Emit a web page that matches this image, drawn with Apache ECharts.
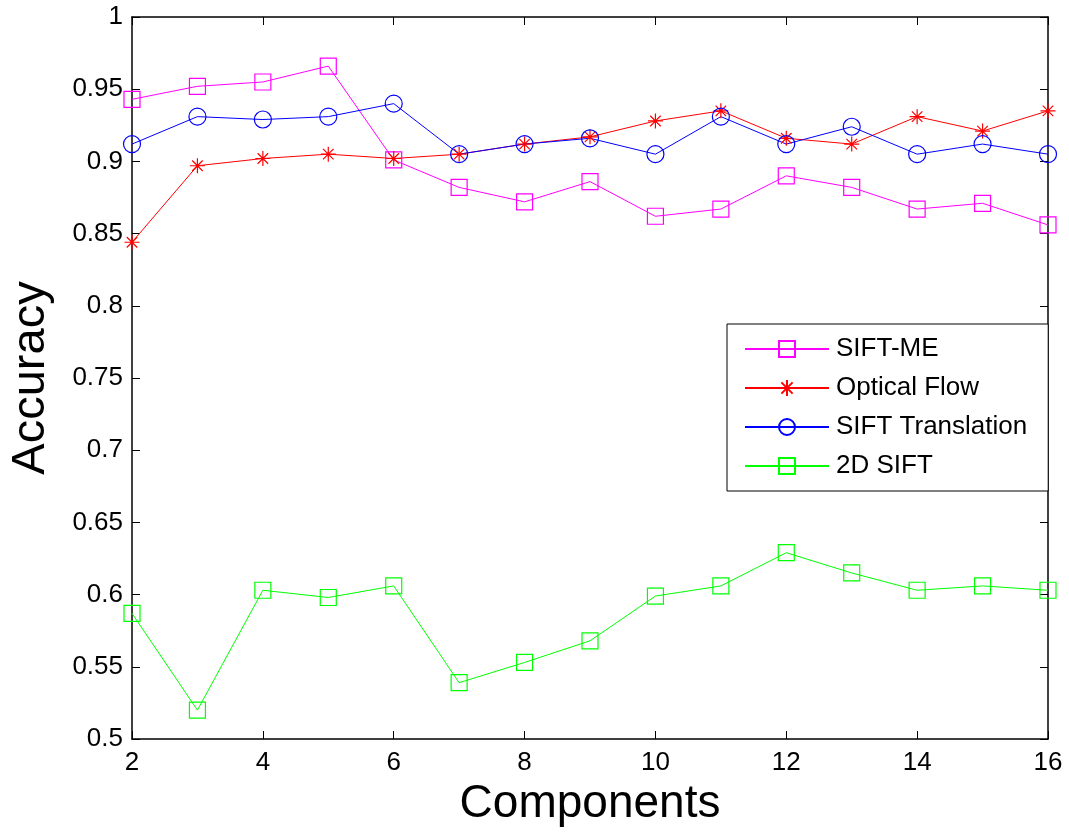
<!DOCTYPE html>
<html>
<head>
<meta charset="utf-8">
<script src="https://cdn.jsdelivr.net/npm/echarts@6/dist/echarts.min.js"></script>
<style>
html,body{margin:0;padding:0;background:#fff;}
#chart{width:1069px;height:836px;}
</style>
</head>
<body>
<div id="chart"></div>
<script>
var components = [2, 3, 4, 5, 6, 7, 8, 9, 10, 11, 12, 13, 14, 15, 16];
var siftME = [0.943, 0.952, 0.955, 0.966, 0.901, 0.882, 0.872, 0.886, 0.862, 0.867, 0.890, 0.882, 0.867, 0.871, 0.856];
var opticalFlow = [0.844, 0.897, 0.902, 0.905, 0.902, 0.905, 0.912, 0.917, 0.928, 0.935, 0.916, 0.912, 0.931, 0.921, 0.935];
var siftTranslation = [0.912, 0.931, 0.929, 0.931, 0.940, 0.905, 0.912, 0.916, 0.905, 0.931, 0.912, 0.924, 0.905, 0.912, 0.905];
var sift2D = [0.587, 0.520, 0.603, 0.598, 0.606, 0.539, 0.553, 0.568, 0.599, 0.606, 0.629, 0.615, 0.603, 0.606, 0.603];
var seriesNames = ['SIFT-ME', 'Optical Flow', 'SIFT Translation', '2D SIFT'];

var FONT = 'Liberation Sans, Arial, sans-serif';
var starPath = 'path://M5 0 L5 10 M0 5 L10 5 M1.5 1.5 L8.5 8.5 M8.5 1.5 L1.5 8.5';

function pairs(ys) { return components.map(function (x, i) { return [x, ys[i]]; }); }

function mkSeries(name, ys, color, symbol, size) {
  return {
    name: name, type: 'line', data: pairs(ys),
    symbol: symbol, symbolSize: size,
    lineStyle: { color: color, width: 1 },
    itemStyle: { color: 'rgba(0,0,0,0)', borderColor: color, borderWidth: 1.2 },
    emphasis: { disabled: true },
    animation: false
  };
}

var chart = echarts.init(document.getElementById('chart'));
chart.setOption({
  backgroundColor: '#fff',
  animation: false,
  grid: { left: 130, right: 21, top: 17, bottom: 97 },
  xAxis: [{
    type: 'value', min: 2, max: 16, interval: 2,
    name: 'Components', nameLocation: 'middle', nameGap: 33,
    nameTextStyle: { fontFamily: FONT, fontSize: 46, color: '#000' },
    axisLine: { onZero: false, lineStyle: { color: '#000', width: 1.5 } },
    axisTick: { inside: true, length: 8, lineStyle: { color: '#000' } },
    axisLabel: { fontFamily: FONT, fontSize: 26, color: '#000', margin: 11 },
    splitLine: { show: false }
  }, {
    type: 'value', min: 2, max: 16, interval: 2, position: 'top',
    axisLine: { onZero: false, lineStyle: { color: '#000', width: 1.5 } },
    axisTick: { inside: true, length: 8, lineStyle: { color: '#000' } },
    axisLabel: { show: false }, splitLine: { show: false }
  }],
  yAxis: [{
    type: 'value', min: 0.5, max: 1, interval: 0.05,
    name: 'Accuracy', nameLocation: 'middle', nameGap: 77, nameRotate: 90,
    nameTextStyle: { fontFamily: FONT, fontSize: 47, color: '#000' },
    axisLine: { show: true, onZero: false, lineStyle: { color: '#000', width: 1.5 } },
    axisTick: { show: true, inside: true, length: 8, lineStyle: { color: '#000' } },
    axisLabel: { fontFamily: FONT, fontSize: 26, color: '#000', margin: 9 },
    splitLine: { show: false }
  }, {
    type: 'value', min: 0.5, max: 1, interval: 0.05, position: 'right',
    axisLine: { show: true, onZero: false, lineStyle: { color: '#000', width: 1.5 } },
    axisTick: { show: true, inside: true, length: 8, lineStyle: { color: '#000' } },
    axisLabel: { show: false }, splitLine: { show: false }
  }],
  legend: {
    data: seriesNames,
    orient: 'vertical', left: 727, top: 324,
    padding: [12, 21, 12, 17],
    itemWidth: 84, itemHeight: 20, itemGap: 13,
    backgroundColor: '#fff', borderColor: '#000', borderWidth: 1, borderRadius: 0,
    textStyle: { fontFamily: FONT, fontSize: 26, color: '#000', padding: [0, 0, 0, 2] },
    selectedMode: false
  },
  series: [
    mkSeries(seriesNames[0], siftME, '#ff00ff', 'rect', 16),
    mkSeries(seriesNames[1], opticalFlow, '#ff0000', starPath, 15),
    mkSeries(seriesNames[2], siftTranslation, '#0000ff', 'circle', 17),
    mkSeries(seriesNames[3], sift2D, '#00ff00', 'rect', 16)
  ]
});
</script>
</body>
</html>
